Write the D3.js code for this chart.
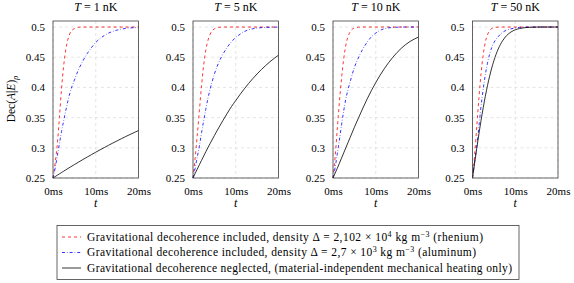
<!DOCTYPE html>
<html>
<head>
<meta charset="utf-8">
<script src="https://cdn.jsdelivr.net/npm/d3@7"></script>
<style>
  body { margin: 0; background: #fff; }
</style>
</head>
<body>
<script>
// time samples (ms) shared by every curve
const timesMs = [0, 0.5, 1, 1.5, 2, 2.5, 3, 3.5, 4, 5, 6, 7, 8, 9, 10, 11, 12, 13, 14, 15, 16, 17, 18, 19, 20];
const temperaturesNK = [1, 5, 10, 50];

// gravitational decoherence included, rhenium (red dashed), one row per panel
const rhenium = [
  [0.25, 0.275, 0.305, 0.350, 0.398, 0.436, 0.463, 0.480, 0.490, 0.4975, 0.4996, 0.5, 0.5, 0.5, 0.5, 0.5, 0.5, 0.5, 0.5, 0.5, 0.5, 0.5, 0.5, 0.5, 0.5],
  [0.25, 0.283, 0.321, 0.362, 0.403, 0.437, 0.462, 0.478, 0.488, 0.497, 0.4995, 0.5, 0.5, 0.5, 0.5, 0.5, 0.5, 0.5, 0.5, 0.5, 0.5, 0.5, 0.5, 0.5, 0.5],
  [0.25, 0.285, 0.331, 0.376, 0.415, 0.447, 0.470, 0.484, 0.492, 0.4985, 0.4998, 0.5, 0.5, 0.5, 0.5, 0.5, 0.5, 0.5, 0.5, 0.5, 0.5, 0.5, 0.5, 0.5, 0.5],
  [0.25, 0.288, 0.335, 0.382, 0.423, 0.454, 0.475, 0.487, 0.494, 0.499, 0.4999, 0.5, 0.5, 0.5, 0.5, 0.5, 0.5, 0.5, 0.5, 0.5, 0.5, 0.5, 0.5, 0.5, 0.5]
];

// gravitational decoherence included, aluminum (blue dash-dot)
const aluminum = [
  [0.25, 0.266, 0.286, 0.307, 0.327, 0.345, 0.362, 0.378, 0.392, 0.412, 0.430, 0.444, 0.456, 0.466, 0.4745, 0.481, 0.486, 0.490, 0.4928, 0.495, 0.4966, 0.4977, 0.4985, 0.499, 0.4994],
  [0.25, 0.266, 0.285, 0.303, 0.325, 0.345, 0.364, 0.382, 0.397, 0.422, 0.441, 0.455, 0.4665, 0.4755, 0.483, 0.488, 0.4925, 0.4955, 0.4972, 0.4983, 0.499, 0.4994, 0.4997, 0.4998, 0.5],
  [0.25, 0.267, 0.290, 0.313, 0.338, 0.361, 0.381, 0.396, 0.409, 0.433, 0.450, 0.464, 0.475, 0.484, 0.490, 0.4945, 0.4972, 0.4986, 0.4993, 0.4997, 0.5, 0.5, 0.5, 0.5, 0.5],
  [0.25, 0.277, 0.302, 0.335, 0.369, 0.397, 0.421, 0.440, 0.455, 0.474, 0.484, 0.491, 0.495, 0.497, 0.4985, 0.4993, 0.4997, 0.5, 0.5, 0.5, 0.5, 0.5, 0.5, 0.5, 0.5]
];

// gravitational decoherence neglected (black solid)
const heatingOnly = [
  [0.25, 0.2523, 0.2546, 0.2568, 0.2591, 0.2613, 0.2635, 0.2657, 0.2679, 0.2722, 0.2764, 0.2806, 0.2847, 0.2887, 0.2927, 0.2966, 0.3004, 0.3042, 0.3079, 0.3115, 0.3151, 0.3186, 0.3220, 0.3253, 0.3286],
  [0.25, 0.2575, 0.2648, 0.2721, 0.2793, 0.2864, 0.2935, 0.3002, 0.3071, 0.3203, 0.3330, 0.3452, 0.3570, 0.3683, 0.3783, 0.3883, 0.3976, 0.4064, 0.4147, 0.4224, 0.4296, 0.4363, 0.4425, 0.4482, 0.4534],
  [0.25, 0.258, 0.266, 0.2745, 0.283, 0.2915, 0.300, 0.3085, 0.317, 0.334, 0.350, 0.366, 0.381, 0.395, 0.408, 0.420, 0.431, 0.441, 0.450, 0.458, 0.465, 0.471, 0.476, 0.480, 0.4834],
  [0.25, 0.2749, 0.2994, 0.3229, 0.3453, 0.3662, 0.3854, 0.4028, 0.4184, 0.4442, 0.4634, 0.4769, 0.486, 0.4918, 0.4954, 0.4975, 0.4987, 0.4994, 0.4997, 0.4999, 0.5, 0.5, 0.5, 0.5, 0.5]
];

const xTicks = [0, 10, 20];
const yTicks = [0.25, 0.3, 0.35, 0.4, 0.45, 0.5];

const width = 574, height = 283;
const panelLefts = [53, 193, 333, 472.5];
const panelW = 85.5;
const plotTop = 21, plotBottom = 178;
const serif = "'Liberation Serif', 'Times New Roman', 'DejaVu Serif', serif";

const svg = d3.select("body").append("svg")
  .attr("width", width)
  .attr("height", height)
  .attr("viewBox", [0, 0, width, height])
  .attr("font-family", serif);

const y = d3.scaleLinear().domain([0.25, 0.51]).range([plotBottom, plotTop]);

const seriesStyle = [
  { data: rhenium, color: "#ff0000", dash: "3,3" },
  { data: aluminum, color: "#0000ff", dash: "3,2,0.6,2" },
  { data: heatingOnly, color: "#000000", dash: null }
];

temperaturesNK.forEach((T, i) => {
  const x0 = panelLefts[i];
  const x = d3.scaleLinear().domain([0, 20]).range([x0, x0 + panelW]);
  const g = svg.append("g");

  // grid
  g.append("g")
    .attr("stroke", "#d4d4d4")
    .attr("stroke-width", 0.6)
    .attr("stroke-dasharray", "3,3")
    .call(gg => gg.selectAll(".gx").data(xTicks).join("line")
      .attr("x1", d => x(d)).attr("x2", d => x(d))
      .attr("y1", plotTop).attr("y2", plotBottom))
    .call(gg => gg.selectAll(".gy").data(yTicks).join("line")
      .attr("x1", x0).attr("x2", x0 + panelW)
      .attr("y1", d => y(d)).attr("y2", d => y(d)));

  // axes
  const xAxis = g.append("g")
    .attr("transform", `translate(0,${plotBottom})`)
    .call(d3.axisBottom(x).tickValues(xTicks).tickFormat(d => d + "ms").tickSize(0).tickPadding(9))
    .attr("font-family", serif)
    .attr("font-size", 11);
  xAxis.select(".domain").remove();

  const yAxis = g.append("g")
    .attr("transform", `translate(${x0},0)`)
    .call(d3.axisLeft(y).tickValues(yTicks).tickFormat(d => String(+d.toFixed(2))).tickSize(0).tickPadding(8))
    .attr("font-family", serif)
    .attr("font-size", 11);
  yAxis.select(".domain").remove();
  g.selectAll(".tick line").remove();

  // curves
  const line = d3.line()
    .x((d, k) => x(timesMs[k]))
    .y(d => y(d))
    .curve(d3.curveMonotoneX);

  seriesStyle.forEach(s => {
    g.append("path")
      .datum(s.data[i])
      .attr("fill", "none")
      .attr("stroke", s.color)
      .attr("stroke-width", 0.8)
      .attr("stroke-dasharray", s.dash)
      .attr("d", line);
  });

  // frame
  g.append("rect")
    .attr("x", x0).attr("y", plotTop)
    .attr("width", panelW).attr("height", plotBottom - plotTop)
    .attr("fill", "none")
    .attr("stroke", "#404040")
    .attr("stroke-width", 0.8);

  // title
  const title = g.append("text")
    .attr("x", x0 + panelW / 2)
    .attr("y", 11)
    .attr("text-anchor", "middle")
    .attr("font-size", 12);
  title.append("tspan").attr("font-style", "italic").text("T");
  title.append("tspan").text(` = ${T} nK`);

  // x label
  g.append("text")
    .attr("x", x0 + panelW / 2)
    .attr("y", 207)
    .attr("text-anchor", "middle")
    .attr("font-size", 12)
    .attr("font-style", "italic")
    .text("t");
});

// y label
const yl = svg.append("text")
  .attr("transform", "translate(15,99) rotate(-90)")
  .attr("text-anchor", "middle")
  .attr("font-size", 11.5);
yl.append("tspan").text("Dec(");
yl.append("tspan").attr("font-style", "italic").text("A");
yl.append("tspan").text("|");
yl.append("tspan").attr("font-style", "italic").text("E");
yl.append("tspan").text(")");
yl.append("tspan").attr("font-style", "italic").attr("font-size", 8.5).attr("dy", 2.5).text("ρ");

// legend
const legendRows = [
  [["Gravitational decoherence included, density Δ = 2,102 × 10"], ["4", "sup"], [" kg m"], ["−3", "sup"], [" (rhenium)"]],
  [["Gravitational decoherence included, density Δ = 2,7 × 10"], ["3", "sup"], [" kg m"], ["−3", "sup"], [" (aluminum)"]],
  [["Gravitational decoherence neglected, (material-independent mechanical heating only)"]]
];
const legendY = [237, 252.5, 268];
const legendLen = [396, 389, 425];

const lg = svg.append("g");
lg.append("rect")
  .attr("x", 57).attr("y", 225.5)
  .attr("width", 462).attr("height", 54)
  .attr("fill", "#fff")
  .attr("stroke", "#404040")
  .attr("stroke-width", 0.8);

legendRows.forEach((row, r) => {
  const s = seriesStyle[r];
  lg.append("line")
    .attr("x1", 62).attr("x2", 81)
    .attr("y1", legendY[r]).attr("y2", legendY[r])
    .attr("stroke", s.color)
    .attr("stroke-width", 0.8)
    .attr("stroke-dasharray", s.dash);
  const t = lg.append("text")
    .attr("x", 87)
    .attr("y", legendY[r] + 3.5)
    .attr("font-size", 11.5)
    .attr("textLength", legendLen[r])
    .attr("lengthAdjust", "spacing");
  let shift = 0;
  row.forEach(([str, kind]) => {
    const sp = t.append("tspan").text(str);
    if (kind === "sup") {
      sp.attr("font-size", 8).attr("dy", -4 - shift);
      shift = -4;
    } else {
      sp.attr("dy", -shift);
      shift = 0;
    }
  });
});
</script>
</body>
</html>
